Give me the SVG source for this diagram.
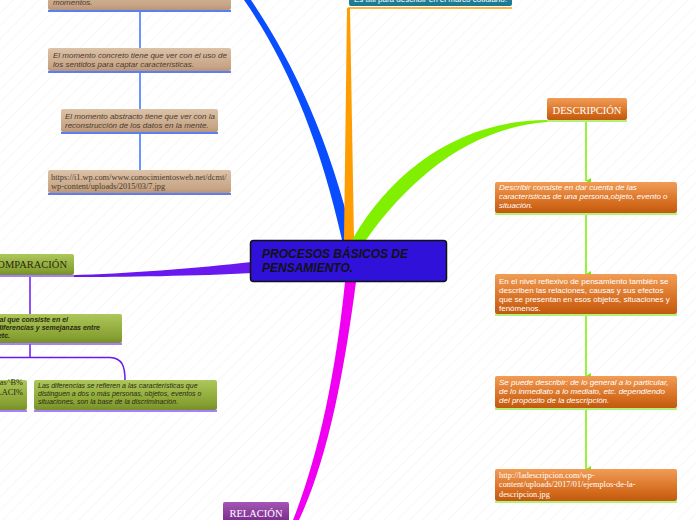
<svg xmlns="http://www.w3.org/2000/svg" width="696" height="520" viewBox="0 0 696 520">
<defs>
<pattern id="hatch" width="9" height="9" patternUnits="userSpaceOnUse" patternTransform="rotate(45)">
<line x1="0" y1="0" x2="0" y2="9" stroke="#e6e6e6" stroke-width="0.7"/>
</pattern>
<linearGradient id="gBrown" x1="0" y1="0" x2="0" y2="1">
<stop offset="0" stop-color="#dcc2a8"/><stop offset="0.8" stop-color="#c7a585"/><stop offset="1" stop-color="#b8957a"/>
</linearGradient>
<linearGradient id="gOrange" x1="0" y1="0" x2="0" y2="1">
<stop offset="0" stop-color="#f29c55"/><stop offset="0.75" stop-color="#d2681a"/><stop offset="1" stop-color="#c05a10"/>
</linearGradient>
<linearGradient id="gOlive" x1="0" y1="0" x2="0" y2="1">
<stop offset="0" stop-color="#adc75a"/><stop offset="0.8" stop-color="#86a032"/><stop offset="1" stop-color="#768f28"/>
</linearGradient>
<linearGradient id="gPurple" x1="0" y1="0" x2="0" y2="1">
<stop offset="0" stop-color="#a456b4"/><stop offset="1" stop-color="#6c1e80"/>
</linearGradient>
<linearGradient id="gTeal" x1="0" y1="0" x2="0" y2="1">
<stop offset="0" stop-color="#2a94ad"/><stop offset="1" stop-color="#1c7890"/>
</linearGradient>
<marker id="arrG" markerWidth="6" markerHeight="6" refX="3" refY="5" orient="auto" markerUnits="userSpaceOnUse">
<path d="M0,0 L6,0 L3,5 Z" fill="#77ee00"/>
</marker>
</defs>
<style>
.nb{fill:url(#gBrown)}
.no{fill:url(#gOrange)}
.nv{fill:url(#gOlive)}
.tb{font-family:"Liberation Sans",Arial,sans-serif;font-size:8px;font-style:italic;fill:#4a3b30}
.to{font-family:"Liberation Sans",Arial,sans-serif;font-size:8px;fill:#ffffff}
.tv{font-family:"Liberation Sans",Arial,sans-serif;font-size:7px;font-style:italic;fill:#2b2a10}
.ts{font-family:"Liberation Serif","Times New Roman",serif;font-size:8.3px}
.tt{font-family:"Liberation Serif","Times New Roman",serif;font-size:10.5px}
.ub{stroke:#2255ee;stroke-width:1.5}
.ug{stroke:#b5f078;stroke-width:2}
.up{stroke:#8a55ff;stroke-width:1.5}
.cb{stroke:#6a96ff;stroke-width:2;fill:none}
.cg{stroke:#77ee00;stroke-width:1.5;fill:none}
.cp{stroke:#6a18f0;stroke-width:1.5;fill:none}
</style>
<rect x="0" y="0" width="696" height="520" fill="#ffffff"/>
<rect x="0" y="0" width="696" height="520" fill="url(#hatch)"/>

<g id="connectors">
<path d="M244 0 L251 0 C292 60 330 140 353 240 L342 240 C320 140 286 60 244 0 Z" fill="#0a4dff"/>
<path d="M347 8 L350 8 L354 240 L344 240 Z" fill="#ff9d00"/>
<line x1="348" y1="8" x2="512" y2="8" stroke="#ff9d00" stroke-width="1.5"/>
<path d="M352 240 C395 165 465 120 547 120 L547 122 C472 128 412 175 366 240 Z" fill="#80f000"/>
<path d="M252 262 C200 268 120 274 74 275 L74 277 C120 277 200 276 252 273 Z" fill="#6a18f0"/>
<path d="M345 282 L356 282 C343 380 327 460 299 520 L293 520 C317 460 335 380 345 282 Z" fill="#f000f0"/>
<line class="cb" x1="140" y1="12" x2="140" y2="48"/>
<line class="cb" x1="140" y1="73" x2="140" y2="109"/>
<line class="cb" x1="140" y1="134" x2="140" y2="170"/>
<line class="cg" x1="586" y1="122" x2="586" y2="181" marker-end="url(#arrG)"/>
<line class="cg" x1="586" y1="215" x2="586" y2="274" marker-end="url(#arrG)"/>
<line class="cg" x1="586" y1="316" x2="586" y2="376" marker-end="url(#arrG)"/>
<line class="cg" x1="586" y1="410" x2="586" y2="469" marker-end="url(#arrG)"/>
<line class="cp" x1="30" y1="277" x2="30" y2="314"/>
<path class="cp" d="M30 344 L30 357.5 M0 357.5 L110 357.5 C122 358 125 366 125 380"/>
</g>

<g id="n-momentos">
<rect class="nb" x="48" y="-14" width="183" height="24" rx="2"/>
<line class="ub" x1="48" y1="11" x2="231" y2="11"/>
<text class="tb" x="53" y="5">momentos.</text>
</g>
<g id="n-concreto">
<rect class="nb" x="48" y="48" width="183" height="23" rx="2"/>
<line class="ub" x1="48" y1="72" x2="231" y2="72"/>
<text class="tb" x="53" y="58">El momento concreto tiene que ver con el uso de</text>
<text class="tb" x="53" y="67">los sentidos para captar características.</text>
</g>
<g id="n-abstracto">
<rect class="nb" x="61" y="109" width="157" height="23" rx="2"/>
<line class="ub" x1="61" y1="133" x2="218" y2="133"/>
<text class="tb" x="65" y="119">El momento abstracto tiene que ver con la</text>
<text class="tb" x="65" y="128">reconstrucción de los datos en la mente.</text>
</g>
<g id="n-url1">
<rect class="nb" x="48" y="170" width="183" height="23" rx="2"/>
<line class="ub" x1="48" y1="194" x2="231" y2="194"/>
<text class="ts" x="51" y="180" fill="#4a3b30">https://i1.wp.com/www.conocimientosweb.net/dcmt/</text>
<text class="ts" x="51" y="189" fill="#4a3b30">wp-content/uploads/2015/03/7.jpg</text>
</g>

<g id="n-teal">
<rect x="349" y="-14" width="163" height="20" rx="2" fill="url(#gTeal)"/>
<text class="to" x="354" y="2">Es útil para describir en el marco cotidiano.</text>
</g>

<g id="n-center">
<rect x="250.5" y="240.5" width="196" height="41" rx="3" fill="#3011da" stroke="#111111" stroke-width="1.5"/>
<text x="262" y="258" font-family="Liberation Sans,Arial,sans-serif" font-size="12" font-weight="bold" font-style="italic" fill="#111111">PROCESOS BÁSICOS DE</text>
<text x="262" y="272" font-family="Liberation Sans,Arial,sans-serif" font-size="12" font-weight="bold" font-style="italic" fill="#111111">PENSAMIENTO.</text>
</g>

<g id="n-descripcion">
<rect class="no" x="547" y="98" width="80" height="22" rx="2"/>
<line class="ug" x1="547" y1="121" x2="627" y2="121"/>
<text class="tt" x="587" y="113.5" text-anchor="middle" fill="#ffffff">DESCRIPCIÓN</text>
</g>
<g id="n-d1">
<rect class="no" x="495" y="182" width="182" height="31" rx="2"/>
<line class="ug" x1="495" y1="214" x2="677" y2="214"/>
<text class="to" x="499" y="190" font-style="italic">Describir consiste en dar cuenta de las</text>
<text class="to" x="499" y="199" font-style="italic">características de una persona,objeto, evento o</text>
<text class="to" x="499" y="208" font-style="italic">situación.</text>
</g>
<g id="n-d2">
<rect class="no" x="495" y="274" width="182" height="40" rx="2"/>
<line class="ug" x1="495" y1="315" x2="677" y2="315"/>
<text class="to" x="499" y="284">En el nivel reflexivo de pensamiento también se</text>
<text class="to" x="499" y="293">describen las relaciones, causas y sus efectos</text>
<text class="to" x="499" y="302">que se presentan en esos objetos, situaciones y</text>
<text class="to" x="499" y="311">fenómenos.</text>
</g>
<g id="n-d3">
<rect class="no" x="495" y="376" width="182" height="32" rx="2"/>
<line class="ug" x1="495" y1="409" x2="677" y2="409"/>
<text class="to" x="499" y="385" font-style="italic">Se puede describir: de lo general a lo particular,</text>
<text class="to" x="499" y="394" font-style="italic">de lo inmediato a lo mediato, etc. dependiendo</text>
<text class="to" x="499" y="403" font-style="italic">del propósito de la descripción.</text>
</g>
<g id="n-d4">
<rect class="no" x="495" y="469" width="182" height="32" rx="2"/>
<line class="ug" x1="495" y1="502" x2="677" y2="502"/>
<text class="ts" x="499" y="478" fill="#ffffff">http://ladescripcion.com/wp-</text>
<text class="ts" x="499" y="487" fill="#ffffff">content/uploads/2017/01/ejemplos-de-la-</text>
<text class="ts" x="499" y="497" fill="#ffffff">descripcion.jpg</text>
</g>

<g id="n-comparacion">
<rect class="nv" x="-20" y="254" width="94" height="21" rx="2"/>
<line class="up" x1="-20" y1="276" x2="74" y2="276"/>
<text class="tt" x="67" y="268" text-anchor="end" fill="#2b2a10">COMPARACIÓN</text>
</g>
<g id="n-c1">
<rect class="nv" x="-60" y="314" width="182" height="29" rx="2"/>
<line class="up" x1="-60" y1="344" x2="122" y2="344"/>
<text class="tv" x="68" y="322" text-anchor="end" font-weight="bold" font-size="7.5">Proceso mental que consiste en el</text>
<text class="tv" x="100" y="330" text-anchor="end" font-weight="bold" font-size="7.5">búsqueda de diferencias y semejanzas entre</text>
<text class="tv" x="10" y="338" text-anchor="end" font-weight="bold" font-size="7.5">objetos, etc.</text>
</g>
<g id="n-c2">
<rect class="nv" x="-150" y="380" width="177" height="30" rx="2"/>
<line class="up" x1="-150" y1="411" x2="27" y2="411"/>
<text class="ts" x="23" y="385" text-anchor="end" font-size="7" fill="#2b2a10">aas^B%</text>
<text class="ts" x="23" y="395" text-anchor="end" font-size="7" fill="#2b2a10">LACI%</text>
</g>
<g id="n-c3">
<rect class="nv" x="34" y="380" width="183" height="30" rx="2"/>
<line class="up" x1="34" y1="411" x2="217" y2="411"/>
<text class="tv" x="38" y="388">Las diferencias se refieren a las características que</text>
<text class="tv" x="38" y="396">distinguen a dos o más personas, objetos, eventos o</text>
<text class="tv" x="38" y="404">situaciones, son la base de la discriminación.</text>
</g>

<g id="n-relacion">
<rect x="223" y="502" width="66" height="26" rx="2" fill="url(#gPurple)"/>
<text class="tt" x="256" y="517" text-anchor="middle" fill="#ffffff">RELACIÓN</text>
</g>
</svg>
